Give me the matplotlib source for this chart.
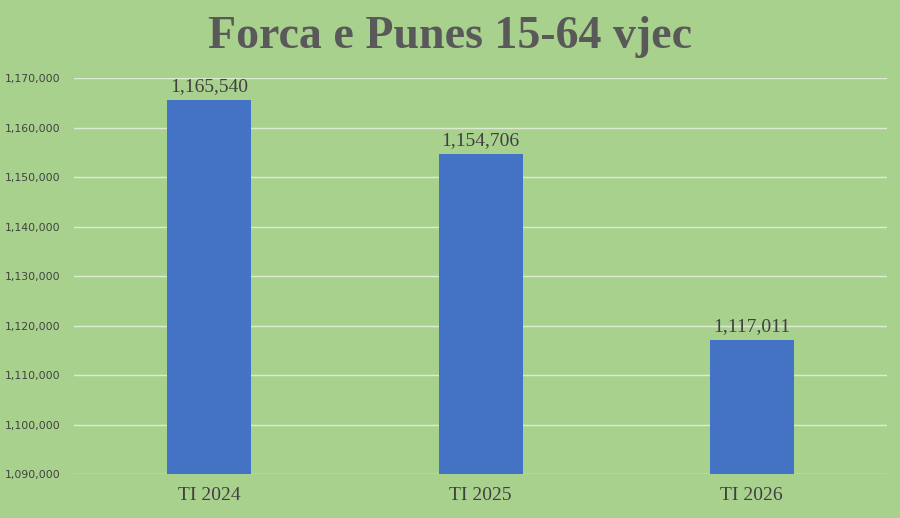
import matplotlib.pyplot as plt
from matplotlib.ticker import FuncFormatter

# Data
categories = ["TI 2024", "TI 2025", "TI 2026"]
values = [1165540, 1154706, 1117011]
yticks = [1090000, 1100000, 1110000, 1120000, 1130000, 1140000, 1150000, 1160000, 1170000]

bg = "#A9D18E"
fig = plt.figure(figsize=(9, 5.18), dpi=100, facecolor=bg)
ax = fig.add_axes([0.0822, 0.0849, 0.9034, 0.7645], facecolor=bg)

x = range(len(categories))
ax.bar(x, values, width=0.31, color="#4472C4", zorder=3)

for xi, v in zip(x, values):
    ax.text(xi, v + 1000, f"{v:,}", ha="center", va="bottom",
            fontsize=14, family="Liberation Serif", color="#404040")

ax.set_xlim(-0.5, len(categories) - 0.5)
ax.set_ylim(1090000, 1170000)
ax.set_yticks(yticks)
ax.yaxis.set_major_formatter(FuncFormatter(lambda v, p: f"{int(v):,}"))
ax.set_xticks(list(x))
ax.set_xticklabels(categories, family="Liberation Serif", fontsize=14, color="#404040")

ax.grid(axis="y", color="#DCEBD2", linewidth=1, zorder=0)
for s in ax.spines.values():
    s.set_visible(False)
ax.tick_params(axis="both", length=0)
ax.tick_params(axis="y", labelsize=7.8, labelcolor="#404040", pad=10)
ax.tick_params(axis="x", pad=9)

fig.text(0.5, 0.928, "Forca e Punes 15-64 vjec", ha="center", va="center",
         fontsize=33, fontweight="bold", family="Liberation Serif", color="#595959")

fig.savefig("out.png", dpi=100, facecolor=bg)
